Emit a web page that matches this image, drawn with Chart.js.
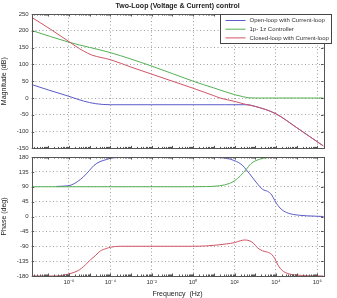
<!DOCTYPE html>
<html>
<head>
<meta charset="utf-8">
<script src="https://cdn.jsdelivr.net/npm/chart.js@4.4.0/dist/chart.umd.min.js"></script>
<style>
  html, body { margin: 0; padding: 0; background: #fff; }
  #wrap { position: relative; width: 337px; height: 298px; }
  #magBox { position: absolute; left: 0; top: 0; width: 337px; height: 155px; }
  #phaseBox { position: absolute; left: 0; top: 150px; width: 337px; height: 148px; }
</style>
</head>
<body>
<div id="wrap">
  <div id="magBox"><canvas id="magChart"></canvas></div>
  <div id="phaseBox"><canvas id="phaseChart"></canvas></div>
</div>
<script>
// x values are log10(frequency in Hz)
const chartTitle = "Two-Loop (Voltage & Current) control";
const seriesNames = ["Open-loop with Current-loop", "1p- 1z Controller", "Closed-loop with Current-loop"];
const seriesColors = ["#5b5bc8", "#55b055", "#d05566"];

const freqTickExps = [-6, -4, -2, 0, 2, 4, 6];
const freqTickLabels = ["10⁻⁶", "10⁻⁴", "10⁻²", "10⁰", "10²", "10⁴", "10⁶"];

// magnitude (dB)
const openMagX = [-7.8, -7, -6, -5.3, -4.7, -4, -2, 0, 1.5, 2.6, 3, 4, 5, 6.3];
const openMagY = [40, 24, 5, -9, -17, -20, -20, -20, -20, -20, -25, -47, -88, -143];
const ctrlMagX = [-7.8, -6, -4, -2, 0, 1, 2, 2.4, 2.7, 3, 4, 5, 6.3];
const ctrlMagY = [201, 166, 135, 95, 50, 30, 10, 4, 0.5, 0, 0, 0, 0];
const closedMagX = [-7.8, -6.9, -6, -5.7, -5.3, -4.9, -4, -3, -2, -1, 0, 1, 1.3, 2, 2.6, 3, 4, 5, 6.3];
const closedMagY = [240, 205, 168, 155, 140, 128, 114, 92, 71, 50, 29, 7, 0, -10, -20, -25, -47, -88, -143];

// phase (deg)
const openPhX = [-6.6, -6.2, -5.9, -5.6, -5.3, -5.0, -4.8, -4.5, -4.2, -4, -3.5, -3, 0, 0.9, 1.3, 1.6, 2, 2.4, 2.56, 2.72, 3.04, 3.36, 3.6, 3.8, 3.95, 4.1, 4.3, 4.6, 5.1, 5.9, 6.3];
const openPhY = [91, 92, 95, 105, 120, 140, 154, 166, 172, 176, 179, 180, 180, 179, 178, 176, 169, 154, 142, 130, 104, 82, 76, 65, 48, 33, 20, 10, 4, 1, 0];
const ctrlPhX = [-7.8, 0, 0.64, 1.28, 1.76, 2, 2.3, 2.56, 2.8, 3.2, 3.6, 4, 6.3];
const ctrlPhY = [90, 90, 90.5, 93, 100, 108, 124, 142, 160, 173, 178, 179.5, 180];
const closedPhX = [-7.8, -6.7, -6.3, -5.9, -5.6, -5.4, -5.2, -4.96, -4.7, -4.48, -4.2, -4, -3.5, -3, 0, 0.64, 1.2, 1.6, 2, 2.3, 2.5, 2.7, 2.9, 3.1, 3.36, 3.6, 3.8, 3.95, 4.1, 4.3, 4.6, 5, 5.6, 6.3];
const closedPhY = [-180, -180, -178, -172, -165, -157, -146, -131, -117, -104, -97, -93, -90, -90, -90, -89, -86, -83, -79, -73, -71, -73, -80, -94, -104, -108, -115, -128, -147, -163, -173, -177, -179.5, -180];

const xMin = -7.8;
const xMax = 6.3;
const FONT = "'Liberation Sans', Arial, sans-serif";

function toPoints(xs, ys) {
  return xs.map((x, i) => ({ x: x, y: ys[i] }));
}

function lineSet(i, xs, ys, order) {
  return {
    label: seriesNames[i],
    data: toPoints(xs, ys),
    borderColor: seriesColors[i],
    borderWidth: 1,
    pointRadius: 0,
    fill: false,
    cubicInterpolationMode: "monotone",
    order: order,
  };
}

// MATLAB style box + inward ticks
const framePlugin = {
  id: "frame",
  afterDatasetsDraw(chart) {
    const { ctx, chartArea: a, scales } = chart;
    ctx.save();
    ctx.strokeStyle = "#555";
    ctx.lineWidth = 1;
    ctx.strokeRect(Math.round(a.left) + 0.5, Math.round(a.top) + 0.5,
      Math.round(a.right - a.left), Math.round(a.bottom - a.top));
    ctx.beginPath();
    // minor / major ticks on x (decades)
    for (let d = Math.floor(xMin); d <= Math.ceil(xMax); d++) {
      for (let k = 1; k <= 9; k++) {
        const v = d + Math.log10(k);
        if (v < xMin || v > xMax) continue;
        const px = Math.round(scales.x.getPixelForValue(v)) + 0.5;
        const len = k === 1 ? 2.5 : 1.5;
        ctx.moveTo(px, a.bottom); ctx.lineTo(px, a.bottom - len);
        ctx.moveTo(px, a.top); ctx.lineTo(px, a.top + len);
      }
    }
    scales.y.ticks.forEach((t) => {
      const py = Math.round(scales.y.getPixelForValue(t.value)) + 0.5;
      ctx.moveTo(a.left, py); ctx.lineTo(a.left + 2.5, py);
      ctx.moveTo(a.right, py); ctx.lineTo(a.right - 2.5, py);
    });
    ctx.stroke();
    ctx.restore();
  },
};

const titleLegendPlugin = {
  id: "titleLegend",
  afterDraw(chart) {
    const { ctx, chartArea: a } = chart;
    ctx.save();
    ctx.fillStyle = "#222";
    ctx.font = "bold 7px " + FONT;
    ctx.textAlign = "center";
    ctx.textBaseline = "middle";
    ctx.fillText(chartTitle, (a.left + a.right) / 2, 6.5);

    // legend box in the upper right corner
    const bx = Math.round(a.right - 104) + 0.5;
    const by = Math.round(a.top) + 0.5;
    const bw = 111;
    const bh = 29;
    ctx.fillStyle = "#fff";
    ctx.fillRect(bx, by, bw, bh);
    ctx.strokeStyle = "#444";
    ctx.lineWidth = 1;
    ctx.strokeRect(bx, by, bw, bh);
    ctx.font = "6px " + FONT;
    ctx.textAlign = "left";
    seriesNames.forEach((name, i) => {
      const y = by + 6 + i * 8.7;
      ctx.strokeStyle = seriesColors[i];
      ctx.beginPath();
      ctx.moveTo(bx + 5, y);
      ctx.lineTo(bx + 25, y);
      ctx.stroke();
      ctx.fillStyle = "#333";
      ctx.fillText(name, bx + 29, y);
    });
    ctx.restore();
  },
};

function xScale(showLabels) {
  return {
    type: "linear",
    min: xMin,
    max: xMax,
    afterBuildTicks: (scale) => {
      scale.ticks = freqTickExps.map((v) => ({ value: v }));
    },
    ticks: {
      display: showLabels,
      color: "#333",
      font: { family: FONT, size: 6 },
      padding: 3,
      maxRotation: 0,
      autoSkip: false,
      callback: (value) => {
        const i = freqTickExps.indexOf(value);
        return i >= 0 ? freqTickLabels[i] : "";
      },
    },
    grid: { color: "#a0a0a0", drawTicks: false },
    border: { display: false, dash: [1, 2.5] },
  };
}

function yScale(min, max, step, title) {
  return {
    min: min,
    max: max,
    ticks: {
      stepSize: step,
      color: "#333",
      font: { family: FONT, size: 6 },
      padding: 3,
    },
    title: {
      display: true,
      text: title,
      color: "#222",
      font: { family: FONT, size: 7 },
      padding: { top: 0, bottom: 2 },
    },
    grid: { color: "#a0a0a0", drawTicks: false },
    border: { display: false, dash: [1, 2.5] },
    afterFit: (scale) => {
      scale.width = 31.7;
    },
  };
}

const commonOptions = {
  responsive: true,
  maintainAspectRatio: false,
  animation: false,
  plugins: { legend: { display: false }, tooltip: { enabled: false } },
};

new Chart(document.getElementById("magChart").getContext("2d"), {
  type: "line",
  data: {
    datasets: [
      lineSet(0, openMagX, openMagY, 3),
      lineSet(1, ctrlMagX, ctrlMagY, 2),
      lineSet(2, closedMagX, closedMagY, 1),
    ],
  },
  options: {
    ...commonOptions,
    layout: { padding: { top: 14, right: 13.5, bottom: 5, left: 0 } },
    scales: {
      x: xScale(false),
      y: yScale(-150, 250, 50, "Magnitude (dB)"),
    },
  },
  plugins: [framePlugin, titleLegendPlugin],
});

const phaseX = xScale(true);
phaseX.title = {
  display: true,
  text: "Frequency  (Hz)",
  color: "#222",
  font: { family: FONT, size: 7 },
  padding: { top: 2, bottom: 0 },
};
phaseX.afterFit = (scale) => {
  scale.height = 22;
};

new Chart(document.getElementById("phaseChart").getContext("2d"), {
  type: "line",
  data: {
    datasets: [
      lineSet(0, openPhX, openPhY, 3),
      lineSet(1, ctrlPhX, ctrlPhY, 2),
      lineSet(2, closedPhX, closedPhY, 1),
    ],
  },
  options: {
    ...commonOptions,
    layout: { padding: { top: 7, right: 13.5, bottom: 0, left: 0 } },
    scales: {
      x: phaseX,
      y: yScale(-180, 180, 45, "Phase (deg)"),
    },
  },
  plugins: [framePlugin],
});
</script>
</body>
</html>
